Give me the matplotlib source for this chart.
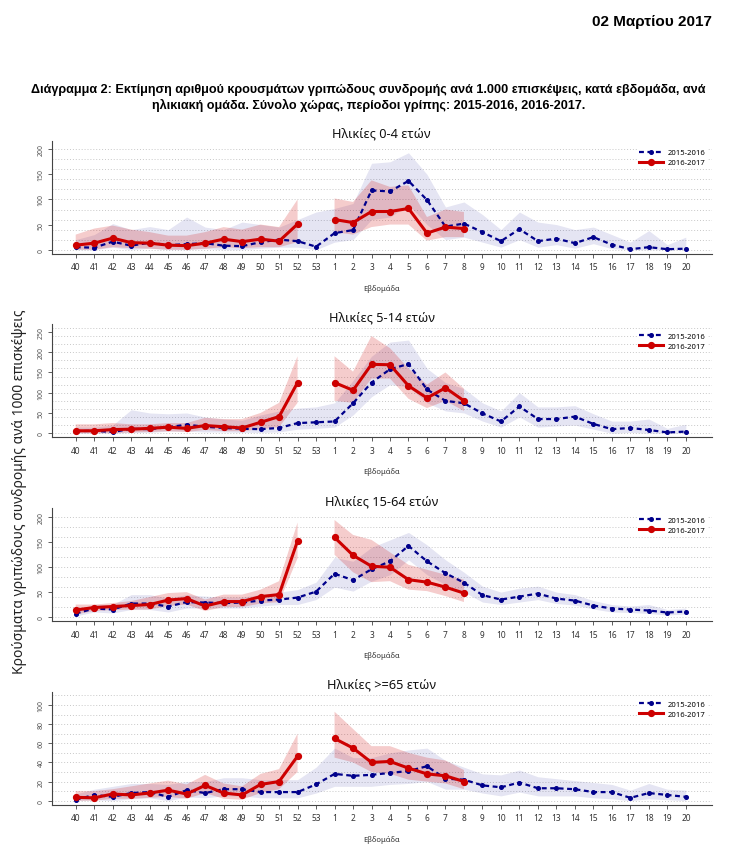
import numpy as np
import matplotlib
matplotlib.use('Agg')
import matplotlib.pyplot as plt
from matplotlib.lines import Line2D

nan = np.nan

# weeks of the flu season
weeks = [str(w) for w in range(40, 54)] + [str(w) for w in range(1, 21)]

panel_titles = ['Ηλικίες 0-4 ετών', 'Ηλικίες 5-14 ετών', 'Ηλικίες 15-64 ετών', 'Ηλικίες >=65 ετών']

# 2015-2016 (full season) : estimate, upper, lower
b1 = [5, 4, 16, 8, 14, 9, 11, 13, 8, 7, 15, 20, 17, 6,
      33, 39, 118, 116, 137, 99, 46, 52, 35, 17, 41, 17, 22, 13, 25, 10, 1, 5, 1, 2]
b1_hi = [20, 30, 52, 40, 46, 40, 65, 45, 40, 55, 50, 45, 60, 75,
         82, 92, 172, 175, 193, 150, 85, 95, 70, 40, 75, 55, 50, 40, 45, 30, 15, 38, 10, 25]
b1_lo = [0, 0, 5, 0, 3, 0, 0, 2, 0, 0, 3, 5, 5, 0,
         15, 20, 60, 65, 90, 50, 20, 25, 15, 5, 20, 5, 10, 3, 12, 2, 0, 0, 0, 0]

b2 = [5, 6, 3, 11, 10, 15, 21, 16, 13, 11, 10, 13, 25, 27,
      29, 74, 125, 158, 171, 108, 80, 74, 49, 29, 66, 35, 35, 41, 23, 10, 13, 8, 2, 4]
b2_hi = [15, 15, 20, 58, 50, 48, 50, 40, 35, 32, 45, 55, 62, 65,
         75, 130, 190, 225, 230, 160, 125, 110, 75, 55, 100, 65, 65, 68, 48, 30, 30, 35, 12, 22]
b2_lo = [0, 0, 0, 2, 2, 5, 5, 3, 3, 2, 2, 3, 10, 12,
         15, 45, 90, 120, 115, 75, 55, 50, 30, 15, 40, 15, 18, 20, 10, 0, 2, 0, 0, 0]

b3 = [7, 17, 15, 27, 27, 21, 30, 29, 28, 29, 33, 35, 39, 51,
      87, 74, 96, 112, 143, 112, 88, 69, 44, 35, 41, 47, 37, 33, 23, 17, 15, 13, 9, 11]
b3_hi = [15, 25, 25, 45, 45, 38, 45, 42, 40, 40, 45, 50, 55, 70,
         120, 112, 140, 155, 170, 145, 115, 90, 62, 50, 58, 62, 50, 45, 33, 25, 22, 25, 15, 18]
b3_lo = [2, 10, 8, 15, 15, 10, 18, 18, 18, 18, 22, 25, 25, 35,
         60, 52, 72, 85, 115, 85, 65, 50, 30, 25, 30, 35, 27, 24, 16, 10, 9, 7, 4, 6]

b4 = [1, 6, 4, 8, 9, 4, 11, 8, 12, 12, 9, 9, 9, 17,
      28, 26, 27, 29, 31, 36, 23, 22, 16, 14, 19, 13, 13, 12, 9, 9, 3, 8, 6, 4]
b4_hi = [7, 12, 15, 18, 18, 17, 20, 20, 24, 24, 22, 22, 22, 35,
         55, 45, 45, 50, 53, 55, 42, 35, 28, 27, 32, 25, 23, 21, 19, 17, 11, 18, 12, 11]
b4_lo = [0, 1, 0, 2, 3, 0, 4, 3, 5, 5, 3, 3, 3, 8,
         15, 15, 15, 17, 18, 20, 12, 12, 8, 5, 9, 5, 5, 5, 3, 2, 0, 2, 1, 0]

# 2016-2017 (up to week 8, no week 53)
r1 = [9, 13, 23, 14, 13, 9, 8, 13, 21, 16, 21, 17, 51, nan, 60, 54, 76, 76, 82, 33, 45, 42]
r1_hi = [30, 42, 48, 40, 35, 28, 28, 35, 45, 40, 50, 45, 100, nan, 102, 95, 138, 125, 128, 65, 80, 75]
r1_lo = [0, 0, 5, 3, 2, 0, 0, 2, 5, 3, 5, 5, 15, nan, 35, 30, 45, 50, 50, 18, 25, 25]

r2 = [6, 6, 9, 10, 12, 15, 12, 19, 16, 13, 27, 41, 125, nan, 125, 106, 170, 169, 117, 87, 112, 80]
r2_hi = [22, 22, 25, 22, 22, 25, 25, 38, 35, 35, 50, 75, 190, nan, 190, 152, 240, 210, 160, 120, 150, 110]
r2_lo = [0, 0, 0, 2, 3, 5, 3, 8, 5, 5, 10, 15, 75, nan, 80, 75, 135, 135, 85, 62, 80, 55]

r3 = [14, 19, 21, 23, 25, 34, 37, 22, 31, 31, 41, 45, 153, nan, 160, 124, 102, 100, 75, 70, 60, 48]
r3_hi = [25, 25, 28, 32, 40, 48, 50, 35, 45, 45, 55, 72, 190, nan, 195, 165, 155, 130, 105, 95, 85, 75]
r3_lo = [5, 12, 14, 15, 15, 22, 25, 12, 20, 20, 27, 30, 118, nan, 125, 90, 70, 72, 55, 52, 42, 30]

r4 = [3.5, 3, 7, 6, 8, 11, 7, 16, 8, 6, 17, 20, 46.5, nan, 65, 55, 40, 41, 34, 28, 26, 20]
r4_hi = [10, 10, 12, 15, 18, 21, 17, 27, 18, 15, 28, 33, 70, nan, 93, 75, 57, 57, 50, 45, 42, 32]
r4_lo = [0, 0, 2, 2, 3, 4, 2, 8, 2, 1, 8, 12, 30, nan, 45, 40, 30, 28, 22, 20, 18, 12]

blue_sets = [(b1, b1_lo, b1_hi), (b2, b2_lo, b2_hi), (b3, b3_lo, b3_hi), (b4, b4_lo, b4_hi)]
red_sets = [(r1, r1_lo, r1_hi), (r2, r2_lo, r2_hi), (r3, r3_lo, r3_hi), (r4, r4_lo, r4_hi)]

# axis settings per panel
ylims = [(-8, 217), (-10, 269), (-8.6, 218.6), (-4.5, 113.6)]
ytick_max = [200, 250, 200, 100]
ytick_step = [50, 50, 50, 20]
grid_step = [20, 20, 20, 10]
ax_bottoms = [0.7014, 0.4862, 0.2705, 0.0551]

BLUE = '#00008B'
RED = '#CD0000'

plt.rcParams['font.family'] = ['Noto Sans', 'DejaVu Sans']

fig = plt.figure(figsize=(7.35, 8.53), dpi=100)

n = len(weeks)
x = np.arange(n)


def pad(a):
    return np.array(list(a) + [nan] * (n - len(a)), dtype=float)


for i in range(4):
    ax = fig.add_axes([0.0703, ax_bottoms[i], 0.898, 0.1325])
    b, b_lo, b_hi = blue_sets[i]
    r, r_lo, r_hi = [pad(a) for a in red_sets[i]]

    ax.fill_between(x, b_lo, b_hi, color=BLUE, alpha=0.1, linewidth=0)
    ax.fill_between(x, r_lo, r_hi, color=RED, alpha=0.2, linewidth=0)
    ax.plot(x, b, color=BLUE, linestyle=(0, (2.2, 1.6)), linewidth=1.6,
            marker='o', markersize=2.6)
    ax.plot(x, r, color=RED, linewidth=2.2, marker='o', markersize=4.2)

    ax.set_xlim(-1.3, 34.4)
    ax.set_ylim(*ylims[i])
    for g in np.arange(0, ylims[i][1], grid_step[i]):
        ax.axhline(g, color='#c8c8c8', linestyle=(0, (1, 2)), linewidth=0.7, zorder=0)

    ax.set_xticks(x)
    ax.set_xticklabels(weeks, fontsize=6, color='#333333')
    ax.set_yticks(np.arange(0, ytick_max[i] + 1, ytick_step[i]))
    ax.tick_params(axis='y', labelsize=5, labelcolor='#555555', rotation=90,
                   length=3, width=0.6, color='#444444', pad=2)
    ax.tick_params(axis='x', length=3, width=0.6, color='#444444', pad=3)
    for lab in ax.get_yticklabels():
        lab.set_va('center')
    for s in ['top', 'right']:
        ax.spines[s].set_visible(False)
    for s in ['left', 'bottom']:
        ax.spines[s].set_color('#444444')
        ax.spines[s].set_linewidth(0.8)

    ax.set_xlabel('Εβδομάδα', fontsize=5.5, color='#333333', labelpad=9)
    ax.set_title(panel_titles[i], fontsize=9.2, color='#111111', pad=3)

    handles = [Line2D([], [], color=BLUE, linestyle=(0, (2.2, 1.6)), linewidth=1.6,
                      marker='o', markersize=2.6),
               Line2D([], [], color=RED, linewidth=2.2, marker='o', markersize=4.2)]
    leg = ax.legend(handles, ['2015-2016', '2016-2017'], loc='upper right',
                    bbox_to_anchor=(1.0, 0.98), fontsize=5.5, frameon=True,
                    handlelength=3.2, handletextpad=0.6, labelspacing=0.35,
                    borderpad=0.3)
    leg.get_frame().set_edgecolor('none')
    leg.get_frame().set_facecolor('white')
    leg.get_frame().set_alpha(1)

fig.text(0.027, 0.423, 'Κρούσματα γριπώδους συνδρομής ανά 1000 επισκέψεις',
         rotation=90, fontsize=10, color='#222222', ha='center', va='center')

head_font = ['Liberation Sans Narrow', 'Liberation Sans', 'DejaVu Sans']
fig.text(0.969, 0.974, '02 Μαρτίου 2017', ha='right', va='center',
         fontsize=11, fontweight='bold', family=head_font)
fig.text(0.501, 0.894,
         'Διάγραμμα 2: Εκτίμηση αριθμού κρουσμάτων γριπώδους συνδρομής ανά 1.000 επισκέψεις, κατά εβδομάδα, ανά',
         ha='center', va='center', fontsize=9.05, fontweight='bold', family=head_font)
fig.text(0.501, 0.876,
         'ηλικιακή ομάδα. Σύνολο χώρας, περίοδοι γρίπης: 2015-2016, 2016-2017.',
         ha='center', va='center', fontsize=9.05, fontweight='bold', family=head_font)

fig.savefig('out.png', dpi=100)
